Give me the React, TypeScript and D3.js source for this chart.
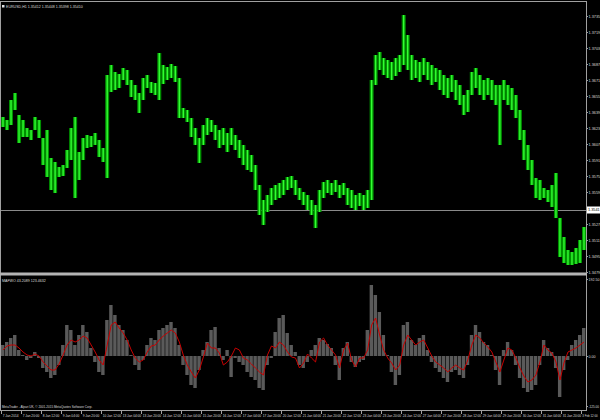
import React, { useEffect, useRef } from 'react';
import * as d3 from 'd3';

// ---- Price bars (approx. 3.2 hour buckets of EURUSD H1, 7 Jan – 3 Feb 2014) ----
const barHigh: number[] = [
  1.3634, 1.3631, 1.3651, 1.3658, 1.3636, 1.3631, 1.3623, 1.3621, 1.3634, 1.3631,
  1.3613, 1.3621, 1.3593, 1.3589, 1.3584, 1.3586, 1.3601, 1.3623, 1.3634, 1.3599,
  1.3613, 1.3616, 1.3615, 1.3618, 1.3611, 1.3603, 1.3676, 1.3686, 1.3679, 1.3677,
  1.3683, 1.3681, 1.3671, 1.3666, 1.3658, 1.3673, 1.3676, 1.3669, 1.3668, 1.3698,
  1.3686, 1.3684, 1.3687, 1.3685, 1.3673, 1.3643, 1.3641, 1.3633, 1.3623, 1.3613,
  1.3626, 1.3633, 1.3631, 1.3626, 1.3621, 1.3623, 1.3618, 1.3623, 1.3616, 1.3611,
  1.3606, 1.3601, 1.3596, 1.3586, 1.3566, 1.3551, 1.3556, 1.3563, 1.3566, 1.3568,
  1.3571, 1.3574, 1.3575, 1.3571, 1.3563, 1.3559, 1.3556, 1.3551, 1.3546, 1.3561,
  1.3569, 1.3571, 1.3568, 1.3571, 1.3566, 1.3568, 1.3563, 1.3561, 1.3556, 1.3558,
  1.3556, 1.3561, 1.3671, 1.3696, 1.3699, 1.3693, 1.3691, 1.3689, 1.3693, 1.3696,
  1.3736, 1.3716, 1.3696, 1.3691, 1.3689, 1.3693, 1.3689, 1.3686, 1.3683, 1.3681,
  1.3676, 1.3673, 1.3676, 1.3671, 1.3666, 1.3656, 1.3661, 1.3679, 1.3683, 1.3676,
  1.3671, 1.3673, 1.3671, 1.3666, 1.3666, 1.3671, 1.3666, 1.3663, 1.3656, 1.3641,
  1.3621, 1.3606, 1.3591, 1.3573, 1.3571, 1.3563, 1.3561, 1.3566, 1.3578, 1.3533,
  1.3514, 1.3501, 1.3499, 1.3503, 1.3511, 1.3524,
];
const barLow: number[] = [
  1.3624, 1.3621, 1.3626, 1.3641, 1.3608, 1.3614, 1.3614, 1.3611, 1.3621, 1.3613,
  1.3586, 1.3574, 1.3561, 1.3558, 1.3574, 1.3575, 1.3583, 1.3591, 1.3553, 1.3571,
  1.3591, 1.3603, 1.3604, 1.3606, 1.3594, 1.3589, 1.3573, 1.3659, 1.3661, 1.3663,
  1.3671, 1.3666, 1.3654, 1.3651, 1.3638, 1.3651, 1.3663, 1.3658, 1.3656, 1.3651,
  1.3667, 1.3671, 1.3673, 1.3669, 1.3633, 1.3633, 1.3629, 1.3614, 1.3606, 1.3588,
  1.3606, 1.3616, 1.3619, 1.3611, 1.3603, 1.3606, 1.3599, 1.3606, 1.3601, 1.3593,
  1.3586, 1.3581, 1.3579, 1.3561, 1.3536, 1.3526, 1.3539, 1.3546, 1.3551, 1.3553,
  1.3556, 1.3561, 1.3563, 1.3556, 1.3551, 1.3546, 1.3541, 1.3536, 1.3523, 1.3539,
  1.3553, 1.3558, 1.3556, 1.3559, 1.3553, 1.3556, 1.3546, 1.3543, 1.3541, 1.3545,
  1.3541, 1.3543, 1.3551, 1.3666, 1.3681, 1.3676, 1.3673, 1.3671, 1.3675, 1.3679,
  1.3686, 1.3681, 1.3671, 1.3673, 1.3669, 1.3676, 1.3671, 1.3666, 1.3669, 1.3661,
  1.3656, 1.3653, 1.3659, 1.3651, 1.3646, 1.3636, 1.3639, 1.3656, 1.3663, 1.3656,
  1.3651, 1.3656, 1.3651, 1.3646, 1.3606, 1.3651, 1.3646, 1.3641, 1.3633, 1.3611,
  1.3591, 1.3581, 1.3566, 1.3553, 1.3551, 1.3553, 1.3549, 1.3544, 1.3533, 1.3494,
  1.3488, 1.3486, 1.3486, 1.3487, 1.3488, 1.3501,
];

// ---- Oscillator (histogram + signal) ----
const histValues: number[] = [
  27.5, 35, 45, 52.5, 15, 2.5, -10, -5, 10, -5,
  -30, -40, -55, -47.5, -22.5, 27.5, 77.5, 65, 27.5, 52.5,
  77.5, 60, 20, -15, -40, -47.5, 90, 127.5, 102.5, 77.5,
  65, 40, 2.5, -22.5, -35, -10, 27.5, 45, 40, 65,
  70, 77.5, 85, 70, 27.5, -22.5, -47.5, -72.5, -80, -35,
  15, 35, 65, 72.5, 20, -10, 15, -52.5, -5, -15,
  -22.5, -40, -52.5, -60, -80, -85, -22.5, -5, 60, 95,
  102.5, 57.5, 27.5, 10, -22.5, -30, -15, 15, 27.5, 45,
  40, 30, 20, -22.5, -60, 20, 35, -15, -27.5, -15,
  -10, 65, 177.5, 152.5, 110, 52.5, 2.5, -40, -72.5, -47.5,
  77.5, 85, 40, 27.5, 45, 52.5, 15, -15, -30, -40,
  -55, -65, -40, -35, -47.5, -55, -22.5, 52.5, 77.5, 60,
  35, 27.5, 2.5, -35, -72.5, 15, 35, 15, -22.5, -55,
  -80, -90, -85, -72.5, -22.5, 40, 20, 10, -30, -102.5,
  -35, -10, 27.5, 40, 52.5, 70,
];
const signalValues: number[] = [
  15, 25, 27.5, 27.5, 20, 10, 2.5, 0, 5, 0,
  -15, -25, -35, -35, -20, 2.5, 27.5, 40, 35, 40,
  50, 45, 27.5, 10, -10, -22.5, 27.5, 77.5, 85, 70,
  57.5, 40, 15, -5, -15, -10, 10, 25, 27.5, 40,
  50, 57.5, 65, 57.5, 35, 2.5, -22.5, -40, -55, -35,
  -2.5, 32.5, 20, 20, 7.5, -22.5, -15, 0, 20, 15,
  -5, -10, -20, -30, -40, -47.5, 2.5, 25, 20, 35,
  27.5, 10, -2.5, -5, -30, -17.5, 5, -5, -15, 35,
  45, 27.5, 15, 2.5, -30, 15, 32.5, -10, -27.5, -5,
  -5, 15, 77.5, 95, 52.5, 15, -5, -17.5, -35, -22.5,
  27.5, 52.5, 40, 27.5, 35, 40, 20, 0, -15, -22.5,
  -30, -40, -30, -22.5, -30, -35, -10, 27.5, 52.5, 45,
  32.5, 22.5, 10, -15, -40, -10, 20, 15, -5, -30,
  -50, -65, -60, -47.5, -15, 27.5, 15, 7.5, -15, -60,
  -17.5, 10, 15, 20, 27.5, 35,
];

const priceTicks: number[] = [
  1.3735, 1.3719, 1.3703, 1.3687, 1.3671, 1.3655, 1.3639, 1.3623, 1.3607,
  1.3591, 1.3575, 1.3559, 1.3527, 1.3511, 1.3495, 1.3479,
];
const bidPrice = 1.3541;
const oscTicks: { v: number; label: string }[] = [
  { v: 192.5, label: '192.50' },
  { v: 0, label: '0.00' },
  { v: -125, label: '-125.00' },
];
const timeLabels: string[] = [
  '7 Jan 2014', '7 Jan 20:00', '8 Jan 12:00', '9 Jan 04:00', '9 Jan 20:00',
  '10 Jan 12:00', '13 Jan 04:00', '13 Jan 20:00', '14 Jan 12:00', '15 Jan 04:00',
  '15 Jan 20:00', '16 Jan 12:00', '17 Jan 04:00', '17 Jan 20:00', '20 Jan 12:00',
  '21 Jan 04:00', '21 Jan 20:00', '22 Jan 12:00', '23 Jan 04:00', '23 Jan 20:00',
  '24 Jan 12:00', '27 Jan 04:00', '27 Jan 20:00', '28 Jan 12:00', '29 Jan 04:00',
  '29 Jan 20:00', '30 Jan 12:00', '31 Jan 04:00', '31 Jan 20:00', '3 Feb 12:00',
];
const totalHours = 468;
const labelStepHours = 16;

const titleText = 'EURUSD,H1  1.35412 1.35448 1.35398 1.35410';
const oscTitle = 'MAFWO 43.2089 123.4632';
const footer = 'MetaTrader - Alpari UK, \u00A9 2001-2015 MetaQuotes Software Corp.';

export default function App() {
  const ref = useRef<SVGSVGElement>(null);
  useEffect(() => {
    document.body.style.margin = '0';
    document.body.style.background = '#000';
    const svg = d3.select(ref.current);
    svg.selectAll('*').remove();
    const font = '"Liberation Sans", Arial, sans-serif';

    const plotLeft = 1, plotRight = 586;
    const mainTop = 2, mainBottom = 272;
    const oscTop = 277, oscBottom = 410;

    svg.append('rect').attr('width', 600).attr('height', 420).attr('fill', '#000');

    const n = barHigh.length;
    const x = d3.scaleLinear().domain([0, totalHours]).range([plotLeft, plotRight]);
    const bucket = totalHours / n;
    const xc = (i: number) => x((i + 0.5) * bucket);
    const bw = x(bucket) - x(0);

    const y = d3.scaleLinear().domain([1.3479, 1.375]).range([mainBottom, 1]);
    const yo = d3.scaleLinear().domain([-132.5, 192.5]).range([409, 279]);

    const defs = svg.append('defs');
    defs.append('clipPath').attr('id', 'cpMain').append('rect')
      .attr('x', plotLeft).attr('y', mainTop).attr('width', plotRight - plotLeft).attr('height', mainBottom - mainTop);
    defs.append('clipPath').attr('id', 'cpOsc').append('rect')
      .attr('x', plotLeft).attr('y', oscTop).attr('width', plotRight - plotLeft).attr('height', oscBottom - oscTop);

    // bid line
    const ybl = Math.round(y(bidPrice)) + 0.5;
    svg.append('line').attr('x1', plotLeft).attr('x2', plotRight)
      .attr('y1', ybl).attr('y2', ybl)
      .attr('stroke', '#8a8a8a').attr('stroke-width', 1);

    // price bars
    const gMain = svg.append('g').attr('clip-path', 'url(#cpMain)');
    const idx = d3.range(n);
    gMain.selectAll('rect.bar').data(idx).join('rect').attr('class', 'bar')
      .attr('x', (i) => xc(i) - bw / 2).attr('width', bw)
      .attr('y', (i) => y(barHigh[i])).attr('height', (i) => Math.max(1, y(barLow[i]) - y(barHigh[i])))
      .attr('fill', '#009000');
    gMain.selectAll('line.core').data(idx).join('line').attr('class', 'core')
      .attr('x1', (i) => xc(i)).attr('x2', (i) => xc(i))
      .attr('y1', (i) => y(barHigh[i])).attr('y2', (i) => y(barLow[i]))
      .attr('stroke', '#33ff33').attr('stroke-width', 1.4);

    // oscillator
    const gOsc = svg.append('g').attr('clip-path', 'url(#cpOsc)');
    gOsc.selectAll('rect.h').data(idx).join('rect').attr('class', 'h')
      .attr('x', (i) => xc(i) - bw / 2).attr('width', bw - 0.6)
      .attr('y', (i) => Math.min(yo(histValues[i]), yo(0)))
      .attr('height', (i) => Math.abs(yo(histValues[i]) - yo(0)))
      .attr('fill', '#5a5a5a');
    const sigLine = d3.line<number>().x((i) => xc(i)).y((i) => yo(signalValues[i]));
    gOsc.append('path').attr('d', sigLine(idx) as string).attr('fill', 'none')
      .attr('stroke', '#c80000').attr('stroke-width', 1);

    // frames
    const frame = '#a0a0a0';
    svg.append('line').attr('x1', 0).attr('x2', plotRight).attr('y1', 1.5).attr('y2', 1.5).attr('stroke', frame);
    svg.append('line').attr('x1', 0.5).attr('x2', 0.5).attr('y1', 1).attr('y2', oscBottom).attr('stroke', frame);
    svg.append('line').attr('x1', plotRight + 0.5).attr('x2', plotRight + 0.5).attr('y1', 1).attr('y2', oscBottom + 1).attr('stroke', frame);
    svg.append('rect').attr('x', 0).attr('y', 272.5).attr('width', plotRight + 1).attr('height', 3).attr('fill', '#b4b4b4');
    svg.append('line').attr('x1', 0).attr('x2', plotRight + 1).attr('y1', oscBottom + 0.5).attr('y2', oscBottom + 0.5).attr('stroke', frame);

    const addText = (xx: number, yy: number, s: string, size: number, fill = '#dcdcdc') => {
      svg.append('text').attr('x', xx).attr('y', yy).text(s)
        .attr('fill', fill).attr('font-size', size).attr('font-family', font);
    };

    // price axis
    priceTicks.forEach((p) => {
      const yy = Math.round(y(p)) + 0.5;
      svg.append('line').attr('x1', plotRight).attr('x2', plotRight + 2).attr('y1', yy).attr('y2', yy).attr('stroke', frame);
      addText(plotRight + 2.5, yy + 1.4, p.toFixed(4), 3.8);
    });
    const yb = y(bidPrice);
    svg.append('rect').attr('x', plotRight + 1).attr('y', yb - 3.5).attr('width', 13).attr('height', 7).attr('fill', '#ffffff');
    addText(plotRight + 2, yb + 1.4, bidPrice.toFixed(4), 3.8, '#000');

    // oscillator axis
    oscTicks.forEach((t) => {
      const yy = Math.round(yo(t.v)) + 0.5;
      svg.append('line').attr('x1', plotRight).attr('x2', plotRight + 2).attr('y1', yy).attr('y2', yy).attr('stroke', frame);
      addText(plotRight + 2.5, yy + 1.4, t.label, t.label.length > 6 ? 3.1 : 3.6);
    });

    // time axis
    timeLabels.forEach((lab, k) => {
      const xx = Math.round(x(k * labelStepHours)) + 0.5;
      svg.append('line').attr('x1', xx).attr('x2', xx).attr('y1', oscBottom).attr('y2', oscBottom + 4).attr('stroke', frame);
      const last = k === timeLabels.length - 1;
      addText(last ? xx + 0.8 : xx + 1.2, 416.5, lab, last ? 2.9 : 3.2);
    });

    // titles
    svg.append('rect').attr('x', 2).attr('y', 5).attr('width', 2.5).attr('height', 2.5).attr('fill', '#e0e0e0');
    addText(6, 8, titleText, 3.6);
    addText(2, 282, oscTitle, 3.6);
    addText(2, 408, footer, 3.1);
  }, []);
  return <svg ref={ref} width={600} height={420} style={{ position: 'absolute', left: 0, top: 0, display: 'block' }} />;
}
